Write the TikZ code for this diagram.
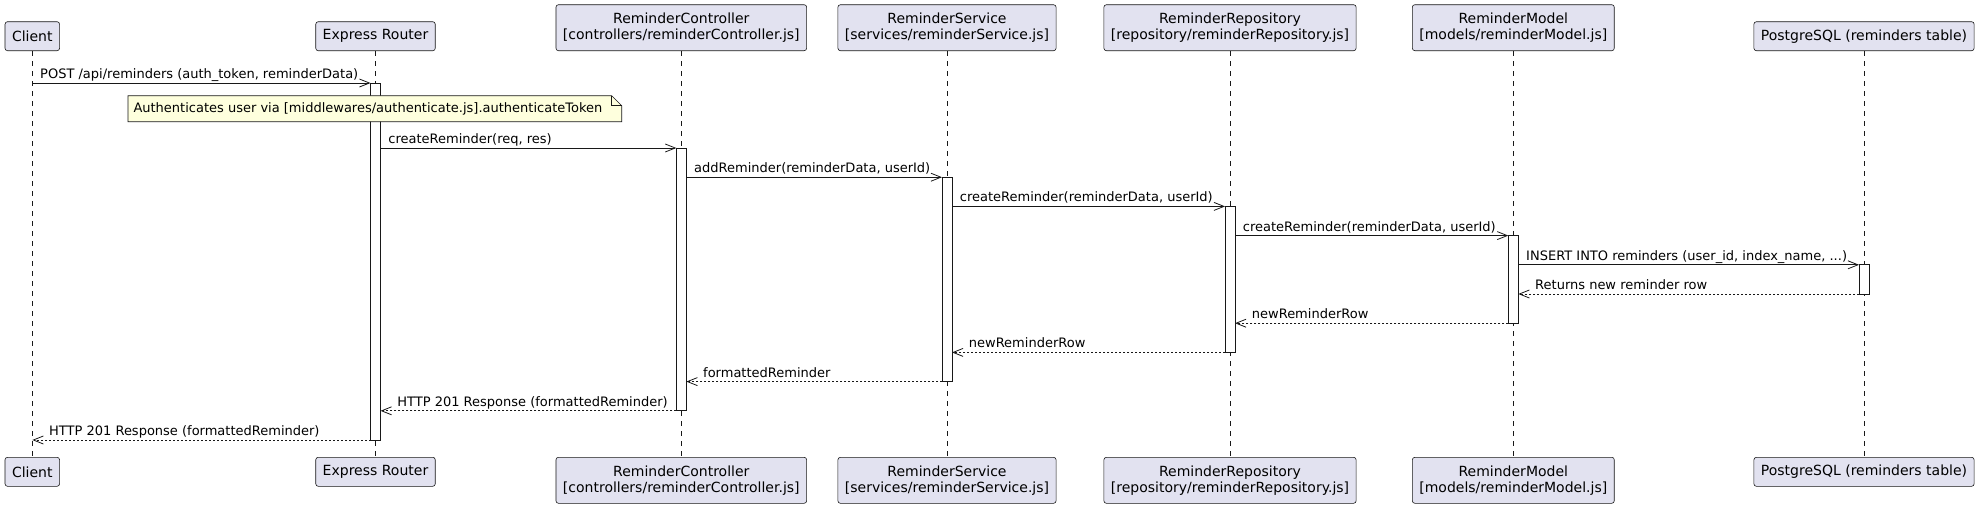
\documentclass[tikz,border=0pt]{standalone}
\usepackage{fontspec}
\setmainfont{DejaVu Sans}
\usetikzlibrary{arrows.meta}

\definecolor{partfill}{HTML}{E2E2F0}
\definecolor{partline}{HTML}{181818}
\definecolor{notefill}{HTML}{FEFFDD}

\tikzset{
  part/.style={draw=partline, fill=partfill, line width=0.6pt, rounded corners=2.5pt,
    align=center, inner xsep=7pt, inner ysep=0pt,
    font=\fontsize{14}{16.3}\selectfont},
  partone/.style={part, minimum height=29pt},
  parttwo/.style={part, minimum height=46pt},
  life/.style={draw=partline, line width=0.5pt, dash pattern=on 5pt off 5pt},
  act/.style={draw=partline, fill=white, line width=0.8pt, minimum width=10pt,
    inner sep=0pt, outer sep=0pt, anchor=north},
  msg/.style={draw=partline, line width=0.8pt, -{Straight Barb[length=10pt,width=8pt]}},
  ret/.style={msg, dash pattern=on 2pt off 2pt},
  lbl/.style={font=\fontsize{13}{15}\selectfont, inner sep=0pt, anchor=base west, yshift=4.5pt},
  lblR/.style={lbl, pos=0, xshift=7.5pt},
  lblL/.style={lbl, pos=1, xshift=16.5pt},
  notebox/.style={draw=partline, fill=notefill, line width=0.6pt}
}

\begin{document}
\begin{tikzpicture}[x=1pt,y=-1pt]
  \useasboundingbox (0,0) rectangle (1980,507);

  %% participants
  % top row
  \node[partone, anchor=south] (client) at (32.3,51) {Client};
  \node[partone, anchor=south] (router) at (375.5,51) {Express Router};
  \node[parttwo, anchor=south] (ctrl) at (681.3,51) {ReminderController\\{[controllers/reminderController.js]}};
  \node[parttwo, anchor=south] (service) at (947,51) {ReminderService\\{[services/reminderService.js]}};
  \node[parttwo, anchor=south] (repo) at (1230,51) {ReminderRepository\\{[repository/reminderRepository.js]}};
  \node[parttwo, anchor=south] (model) at (1513.3,51) {ReminderModel\\{[models/reminderModel.js]}};
  \node[partone, anchor=south] (pg) at (1864,51) {PostgreSQL (reminders table)};

  % bottom row
  \node[partone, anchor=north] (clientB) at (32.3,457) {Client};
  \node[partone, anchor=north] (routerB) at (375.5,457) {Express Router};
  \node[parttwo, anchor=north] (ctrlB) at (681.3,457) {ReminderController\\{[controllers/reminderController.js]}};
  \node[parttwo, anchor=north] (serviceB) at (947,457) {ReminderService\\{[services/reminderService.js]}};
  \node[parttwo, anchor=north] (repoB) at (1230,457) {ReminderRepository\\{[repository/reminderRepository.js]}};
  \node[parttwo, anchor=north] (modelB) at (1513.3,457) {ReminderModel\\{[models/reminderModel.js]}};
  \node[partone, anchor=north] (pgB) at (1864,457) {PostgreSQL (reminders table)};

  % lifelines
  \foreach \p in {client,router,ctrl,service,repo,model,pg}
    \draw[life] (\p) -- (\p B);

  %% activations
  \foreach \n/\x/\a/\b in {actR/375.5/83/440, actC/681.3/148/410.8, actS/947/177.2/381.6,
      actRp/1230/206.4/352.4, actM/1513.3/235.6/323.2, actP/1864/264.8/294}
    \node[act, minimum height={(\b-\a)*1pt}] (\n) at (\x,\a) {};

  %% note
  \filldraw[notebox] (128,95.7) -- (611.7,95.7) -- (621.7,105.7) -- (621.7,121.7) -- (128,121.7) -- cycle;
  \draw[notebox, fill=none] (611.7,95.7) -- (611.7,105.7) -- (621.7,105.7);
  \node[font=\fontsize{13}{15}\selectfont, inner sep=0pt, anchor=west] (note) at (133.3,108.7)
    {Authenticates user via [middlewares/authenticate.js].authenticateToken};

  %% calls
  \draw[msg] (client.south |- actR.north) -- node[lblR]{POST /api/reminders (auth\_token, reminderData)} (actR.north west);
  \draw[msg] (actR.east |- actC.north) -- node[lblR]{createReminder(req, res)} (actC.north west);
  \draw[msg] (actC.east |- actS.north) -- node[lblR]{addReminder(reminderData, userId)} (actS.north west);
  \draw[msg] (actS.east |- actRp.north) -- node[lblR]{createReminder(reminderData, userId)} (actRp.north west);
  \draw[msg] (actRp.east |- actM.north) -- node[lblR]{createReminder(reminderData, userId)} (actM.north west);
  \draw[msg] (actM.east |- actP.north) -- node[lblR]{INSERT INTO reminders (user\_id, index\_name, ...)} (actP.north west);

  %% returns
  \draw[ret] (actP.south west) -- node[lblL]{Returns new reminder row} (actM.east |- actP.south);
  \draw[ret] (actM.south west) -- node[lblL]{newReminderRow} (actRp.east |- actM.south);
  \draw[ret] (actRp.south west) -- node[lblL]{newReminderRow} (actS.east |- actRp.south);
  \draw[ret] (actS.south west) -- node[lblL]{formattedReminder} (actC.east |- actS.south);
  \draw[ret] (actC.south west) -- node[lblL]{HTTP 201 Response (formattedReminder)} (actR.east |- actC.south);
  \draw[ret] (actR.south west) -- node[lblL]{HTTP 201 Response (formattedReminder)} (client.south |- actR.south);
\end{tikzpicture}
\end{document}
